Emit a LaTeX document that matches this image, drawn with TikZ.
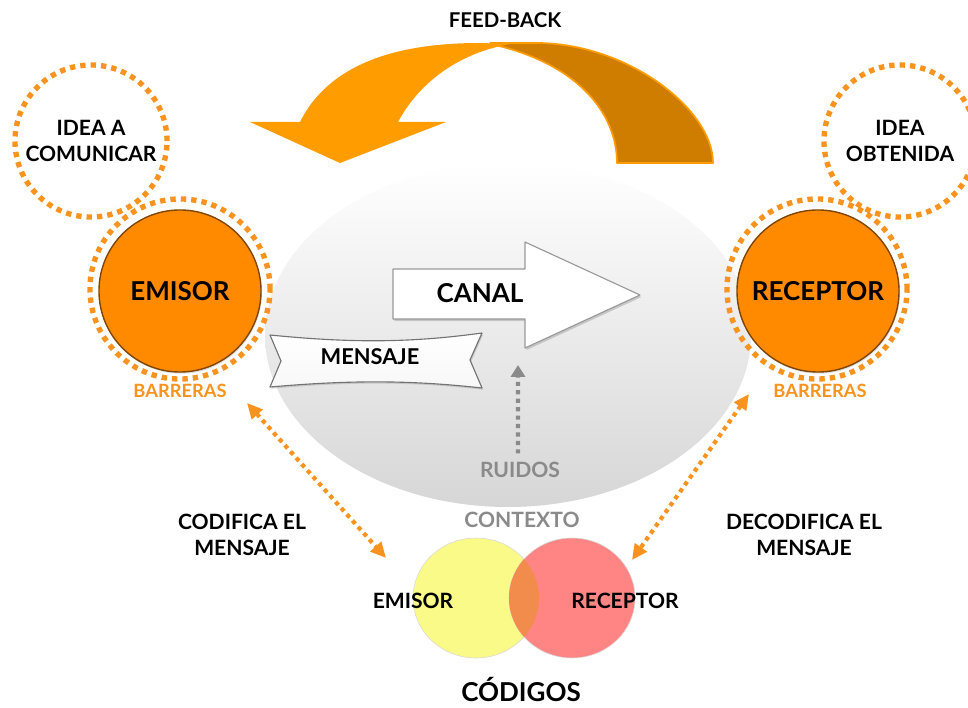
\documentclass[tikz,border=0pt]{standalone}
\usepackage{fontspec}
\setmainfont{Lato}
\usetikzlibrary{arrows.meta,shadows,positioning}
\definecolor{naranja}{HTML}{FF8A00}
\definecolor{punteado}{HTML}{F7931E}
\definecolor{fbclaro}{HTML}{FF9C00}
\definecolor{fboscuro}{HTML}{CF7D00}
\definecolor{gris}{HTML}{8A8A8A}
\definecolor{amarillo}{HTML}{FAFA88}
\definecolor{rojo}{HTML}{FF8585}
\definecolor{solape}{HTML}{F28C4C}
\begin{document}
\begin{tikzpicture}[x=0.025cm,y=-0.025cm,line join=round,
    txt/.style={font=\bfseries\fontsize{#1}{18.5}\selectfont,align=center,inner sep=0pt},
    idea/.style={circle,draw=punteado,line width=3.8pt,dash pattern=on 3.8pt off 3.6pt,minimum size=3.8cm,txt=15},
    ring/.style={circle,draw=punteado,line width=3.8pt,dash pattern=on 3.8pt off 3.6pt,minimum size=4.5cm},
    actor/.style={circle,fill=naranja,draw=black!50!naranja,line width=1pt,minimum size=4.05cm,txt=18.5,
      drop shadow={opacity=0.25,shadow xshift=0.6pt,shadow yshift=-1.2pt}},
    barrera/.style={txt=13,text=punteado},
    gristxt/.style={txt=15,text=gris},
    doble/.style={punteado,line width=3pt,dash pattern=on 3pt off 3pt,
      {Triangle[length=11pt,width=10pt]}-{Triangle[length=11pt,width=10pt]}},
    ruido/.style={gris,line width=3pt,dash pattern=on 3pt off 3pt,-{Triangle[length=8.5pt,width=10pt]}},
    canalst/.style={fill=white,draw=black!40,line width=0.8pt,drop shadow={opacity=0.35,shadow xshift=1pt,shadow yshift=-1.5pt}},
    bannerst/.style={top color=white,bottom color=black!3,draw=black!55,line width=0.8pt,drop shadow={opacity=0.3,shadow xshift=0.8pt,shadow yshift=-1.2pt}}]
  \useasboundingbox (0,0) rectangle (968,708);

  % fondo gris
  \shade[top color=white,middle color=black!7,bottom color=black!16] (508,335) ellipse [x radius=243, y radius=172];

  % feed-back
  \filldraw[fill=fboscuro,draw=fbclaro,line width=1.2pt] (490,43) -- (540,43) .. controls (630,45) and (713,110) .. (713,163)
    -- (617,163) .. controls (617,115) and (580,65) .. (495,45) -- cycle;
  \fill[fbclaro] (300,122) .. controls (330,62) and (400,43) .. (480,43) -- (510,44)
    .. controls (450,55) and (415,90) .. (398,122) -- (446,122) -- (340,163) -- (250,122) -- cycle;
  \node[txt=14.5] (feedback) at (505,20) {FEED-BACK};

  % ideas y actores
  \node[idea] (ideaA) at (91,141) {IDEA A\\COMUNICAR};
  \node[idea] (ideaB) at (900,141) {IDEA\\OBTENIDA};
  \node[ring] (emisorRing) at (180,289) {};
  \node[ring] (receptorRing) at (817,289) {};
  \node[actor] (emisor) at (180,291) {EMISOR};
  \node[actor] (receptor) at (818,291) {RECEPTOR};
  \node[barrera] (barreraA) at (180,391) {BARRERAS};
  \node[barrera] (barreraB) at (820,391) {BARRERAS};

  % canal
  \draw[canalst] (393,269) -- (525,269) -- (525,242) -- (640,295) -- (525,348) -- (525,319) -- (393,319) -- cycle;
  \node[txt=18.5] (canal) at (480,293) {CANAL};

  % mensaje
  \draw[bannerst] (270,335) .. controls (350,343) and (410,343) .. (482,333) -- (470,360) -- (482,388)
    .. controls (410,380) and (350,380) .. (270,387) -- (281,361) -- cycle;
  \node[txt=15.5] (mensaje) at (370,357) {MENSAJE};

  % ruidos
  \node[gristxt] (ruidos) at (520,470) {RUIDOS};
  \coordinate (ruidoTip) at (518,365);
  \draw[ruido] ([xshift=-1.4pt,yshift=6pt]ruidos.north) -- (ruidoTip);

  % codigos
  \node[gristxt] (contexto) at (522,520) {CONTEXTO};
  \fill[amarillo,draw=black!15] (476,598) ellipse [x radius=63, y radius=60];
  \fill[rojo,draw=black!15] (572,598) ellipse [x radius=63, y radius=60];
  \begin{scope}
    \clip (476,598) ellipse [x radius=63, y radius=60];
    \fill[solape] (572,598) ellipse [x radius=63, y radius=60];
  \end{scope}
  \node[txt=15] (codEmisor) at (413,601) {EMISOR};
  \node[txt=15] (codReceptor) at (625,601) {RECEPTOR};
  \node[txt=18.5] (codigos) at (521,689) {CÓDIGOS};

  % codifica / decodifica
  \node[txt=15] (codifica) at (242,535) {CODIFICA EL\\MENSAJE};
  \node[txt=15] (decodifica) at (804,535) {DECODIFICA EL\\MENSAJE};
  \coordinate (codA) at (247,403);
  \coordinate (codB) at (386,558);
  \coordinate (decA) at (749,394);
  \coordinate (decB) at (632,560);
  \draw[doble] (codA) -- (codB);
  \draw[doble] (decA) -- (decB);
\end{tikzpicture}
\end{document}
